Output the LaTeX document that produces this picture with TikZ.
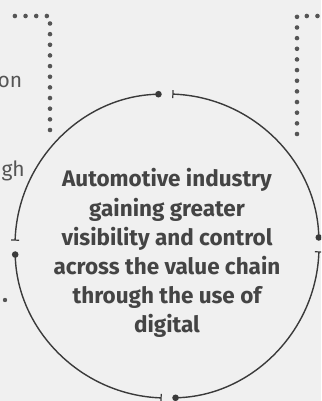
\documentclass[tikz,border=0pt]{standalone}
\usepackage{fontspec}
\setmainfont{Fira Sans}
\usetikzlibrary{arrows.meta,calc}
\definecolor{bg}{HTML}{F0F0F0}
\definecolor{ink}{HTML}{3A3A3A}
\definecolor{dotc}{HTML}{555555}
\definecolor{txt}{HTML}{444444}
\tikzset{
  ring/.style={draw=ink, line width=1.4pt, {Bar[width=8pt,line width=1.2pt]}-{Circle[length=6.5pt]}},
  dotline/.style={draw=dotc, line width=4.6pt, line cap=round, dash pattern=on 0pt off 10.65pt},
  mainline/.style={anchor=base, inner sep=0pt, text=txt, font=\fontsize{22.5pt}{27pt}\selectfont\bfseries},
  sidetext/.style={text=dotc, font=\fontsize{21pt}{25pt}\selectfont, inner sep=0pt}
}
\begin{document}
\begin{tikzpicture}[x=1pt,y=1pt]
\fill[bg] (0,0) rectangle (321,401);
\useasboundingbox (0,0) rectangle (321,401);
\clip (0,0) rectangle (321,401);
% dotted guides
\coordinate (a1) at (7,385);
\coordinate (a2) at (50,385);
\coordinate (a3) at (50,271);
\draw[dotline] (a3) -- (a2) -- (a1);
\coordinate (b1) at (297,267);
\coordinate (b2) at (297,385);
\coordinate (b3) at (330,385);
\draw[dotline] (b1) -- (b2) -- (b3);
\fill[dotc] (5,101) circle (2.2);
% partial side texts
\node[sidetext, anchor=base east] (s1) at (22.5,313) {on};
\node[sidetext, anchor=base east] (s2) at (25,224.3) {gh};
% circle of four arcs
\coordinate (c) at (167,155);
\foreach \a in {90,0,-90,-180}{
  \draw[ring] ($(c)+(\a-2:152)$) arc[start angle=\a-2, end angle=\a-88, radius=152];
}
\node[mainline] (l1) at (167,214) {Automotive industry};
\node[mainline] (l2) at (167,184.8) {gaining greater};
\node[mainline] (l3) at (167,155.6) {visibility and control};
\node[mainline] (l4) at (167,126.4) {across the value chain};
\node[mainline] (l5) at (167,97.2) {through the use of};
\node[mainline] (l6) at (167,68) {digital};
\end{tikzpicture}
\end{document}
